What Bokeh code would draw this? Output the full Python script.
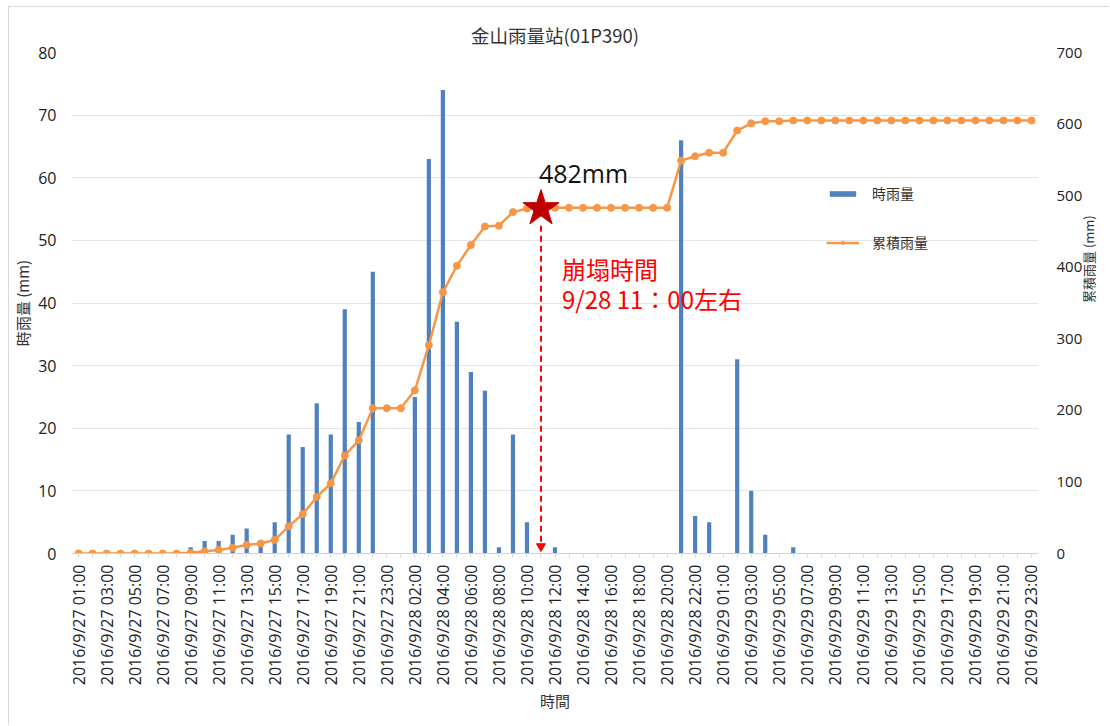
import math
from bokeh.plotting import figure
from bokeh.models import (FactorRange, Range1d, LinearAxis, SingleIntervalTicker,
                          ColumnDataSource, Legend, LegendItem, CustomJSTickFormatter)
from bokeh.core.properties import value
from bokeh.embed import file_html
from bokeh.resources import INLINE

# ---------------- data ----------------
days = ["2016/9/27", "2016/9/28", "2016/9/29"]
hours = ["01:00", "02:00", "03:00", "04:00", "05:00", "06:00", "07:00", "08:00",
         "09:00", "10:00", "11:00", "12:00", "13:00", "14:00", "15:00", "16:00",
         "17:00", "18:00", "19:00", "20:00", "21:00", "22:00", "23:00"]
categories = [f"{d} {h}" for d in days for h in hours]

hourly = [0, 0, 0, 0, 0, 0, 0, 0,
          1, 2, 2, 3, 4, 2, 5,
          19, 17, 24, 19, 39, 21, 45,
          0, 0,
          25, 63, 74, 37, 29, 26, 1, 19, 5,
          0,
          1,
          0, 0, 0, 0, 0, 0, 0, 0,
          66, 6, 5,
          0,
          31, 10, 3,
          0,
          1,
          0, 0, 0, 0, 0, 0, 0, 0, 0, 0, 0, 0, 0, 0, 0, 0, 0]

cumulative = [0, 0, 0, 0, 0, 0, 0, 0,
              1, 3, 5, 8, 12, 14, 19,
              38, 55, 79, 98, 137, 158, 203,
              203, 203,
              228, 291, 365, 402, 431, 457, 458, 477, 482,
              482,
              483,
              483, 483, 483, 483, 483, 483, 483, 483,
              549, 555, 560,
              560,
              591, 601, 604,
              604,
              605,
              605, 605, 605, 605, 605, 605, 605, 605, 605, 605, 605, 605, 605, 605, 605, 605, 605]

collapse_time = "2016/9/28 11:00"
collapse_total = 482
collapse_label = "482mm"
collapse_text = ["崩塌時間", "9/28  11：00左右"]
collapse_text_y = [398, 356]
label_y = 532
arrow_top, arrow_bottom = 458, 10

left_range = (0, 80)
right_range = (0, 700)
left_ticks_interval = 10
right_ticks_interval = 100

CJK = "Noto Sans CJK TC"
NUM = "Open Sans"

src = ColumnDataSource(dict(cat=categories, hourly=hourly, cum=cumulative))

p = figure(x_range=FactorRange(*categories), y_range=Range1d(*left_range),
           width=1101, height=719, output_backend="svg", toolbar_location=None,
           min_border_left=61, min_border_right=68, min_border_top=45, min_border_bottom=173,
           title="金山雨量站(01P390)")
p.styles = {"margin-left": "8px", "margin-top": "6px",
            "border-left": "1px solid #d9d9d9", "border-top": "1px solid #d9d9d9"}
p.extra_y_ranges = {"right": Range1d(*right_range)}

p.title.align = "center"
p.title.text_font = CJK
p.title.text_font_size = "18.5px"
p.title.text_font_style = "normal"
p.title.text_color = "#333333"

p.outline_line_color = None
p.xgrid.visible = False
p.ygrid.grid_line_color = "#e4e4e4"
p.ygrid.grid_line_width = 1

# x axis (label every second hour)
xa = p.xaxis[0]
xa.formatter = CustomJSTickFormatter(code="return (index % 2 == 0) ? tick : '';")
xa.major_label_orientation = math.pi / 2
xa.major_label_text_font = NUM
xa.major_label_text_font_size = "16px"
xa.major_label_text_color = "#222222"
xa.major_label_standoff = 7
xa.axis_line_color = "#d0d0d0"
xa.major_tick_line_color = "#d9d9d9"
xa.major_tick_out = 4
xa.major_tick_in = 0
xa.axis_label = "時間"
xa.axis_label_text_font = CJK
xa.axis_label_text_font_size = "15px"
xa.axis_label_text_font_style = "normal"
xa.axis_label_text_color = "#333333"
xa.axis_label_standoff = 2

# left axis
ya = p.yaxis[0]
ya.ticker = SingleIntervalTicker(interval=left_ticks_interval)
ya.axis_line_color = None
ya.major_tick_line_color = None
ya.minor_tick_line_color = None
ya.major_label_text_font = NUM
ya.major_label_text_font_size = "16px"
ya.major_label_text_color = "#222222"
ya.major_label_standoff = 9
ya.axis_label = "時雨量 (mm)"
ya.axis_label_text_font = CJK
ya.axis_label_text_font_size = "15px"
ya.axis_label_text_font_style = "normal"
ya.axis_label_text_color = "#333333"
ya.axis_label_standoff = 2

# right axis
ra = LinearAxis(y_range_name="right", ticker=SingleIntervalTicker(interval=right_ticks_interval))
ra.axis_line_color = None
ra.major_tick_line_color = None
ra.minor_tick_line_color = None
ra.major_label_text_font = NUM
ra.major_label_text_font_size = "15px"
ra.major_label_text_color = "#222222"
ra.major_label_standoff = 12
ra.axis_label = "累積雨量 (mm)"
ra.axis_label_text_font = CJK
ra.axis_label_text_font_size = "13px"
ra.axis_label_text_font_style = "normal"
ra.axis_label_text_color = "#333333"
ra.axis_label_standoff = 3
if hasattr(ra, "axis_label_orientation"):
    ra.axis_label_orientation = math.pi / 2
p.add_layout(ra, "right")

# glyphs
bars = p.vbar(x="cat", top="hourly", width=0.3, source=src,
              fill_color="#4F81BD", line_color=None)
line = p.line(x="cat", y="cum", source=src, y_range_name="right",
              line_color="#F79646", line_width=2.5)
dots = p.scatter(x="cat", y="cum", source=src, y_range_name="right",
                 marker="circle", size=7, fill_color="#F79646", line_color="#F79646")

# collapse annotation
p.segment(x0=[collapse_time], y0=[arrow_top], x1=[collapse_time], y1=[arrow_bottom],
          y_range_name="right", line_color="#FF0000", line_width=2, line_dash="6 4")
p.scatter(x=[collapse_time], y=[arrow_bottom], y_range_name="right",
          marker="inverted_triangle", size=9, fill_color="#FF0000", line_color="#FF0000")
p.scatter(x=[collapse_time], y=[collapse_total], y_range_name="right",
          marker="star", size=38, fill_color="#C00000", line_color="#C00000")
p.text(x=[collapse_time], y=[label_y], text=[collapse_label], y_range_name="right",
       x_offset=-2, text_font=value(NUM), text_font_size="25px", text_color="#111111",
       text_align="left", text_baseline="middle")
p.text(x=[collapse_time] * 2, y=collapse_text_y, text=collapse_text, y_range_name="right",
       x_offset=21, text_font=value(CJK), text_font_size="24px", text_color="#FF0000",
       text_align="left", text_baseline="middle")

legend = Legend(items=[LegendItem(label="時雨量", renderers=[bars]),
                       LegendItem(label="累積雨量", renderers=[line, dots])],
                location=(755, 301), orientation="vertical",
                glyph_width=33, glyph_height=7, label_standoff=13, spacing=29,
                label_height=20, padding=0, margin=0,
                border_line_color=None, background_fill_alpha=0,
                label_text_font=CJK, label_text_font_size="14px",
                label_text_color="#333333")
p.add_layout(legend)

open("out.html", "w").write(file_html(p, INLINE))
